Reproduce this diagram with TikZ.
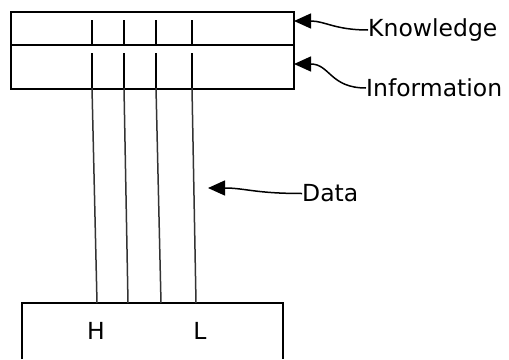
\documentclass[tikz,border=0pt]{standalone}
\usepackage{fontspec}
\setmainfont{DejaVu Sans}
\usetikzlibrary{arrows.meta}

\tikzset{
  frame/.style={draw=black, line width=1.7pt},
  tick/.style={draw=black, line width=1.6pt},
  wire/.style={draw=black!80, line width=1.5pt},
  label/.style={inner sep=0pt, font=\fontsize{23.5}{24}\selectfont},
  pointer/.style={draw=black, line width=1.5pt,
    -{Triangle[length=17pt,width=15pt]}},
}

\begin{document}
\begin{tikzpicture}[x=1pt,y=-1pt]
  \useasboundingbox (0,0) rectangle (509,359);

  % two stacked layers at the top
  \node[frame, minimum width=283pt, minimum height=33pt, inner sep=0pt,
        anchor=north west] (know) at (10,11) {};
  \node[frame, minimum width=283pt, minimum height=44pt, inner sep=0pt,
        anchor=north west] (info) at (10,44) {};

  % source block at the bottom (runs past the lower edge)
  \coordinate (srcL) at (22,359);
  \coordinate (srcTL) at (22,303);
  \coordinate (srcTR) at (283,303);
  \coordinate (srcR) at (283,359);
  \draw[frame] (srcL) -- (srcTL) -- (srcTR) -- (srcR);

  \node[label, anchor=base] (h) at (96,339) {H};
  \node[label, anchor=base] (l) at (200,339) {L};

  % signal lines: short marks in the knowledge layer
  \foreach \i/\x in {1/92,2/124,3/156,4/192} {
    \coordinate (kt\i) at (\x,20);
    \coordinate (kb\i) at (\x,44);
    \draw[tick] (kt\i) -- (kb\i);
  }
  % lines through the information layer down to the source
  \foreach \i/\x/\xb in {1/92/97,2/124/128,3/156/161,4/192/196} {
    \coordinate (it\i) at (\x,53);
    \coordinate (ib\i) at (\x,88);
    \coordinate (sb\i) at (\xb,303);
    \draw[tick] (it\i) -- (ib\i);
    \draw[wire] (ib\i) -- (sb\i);
  }

  % captions and their pointers
  \node[label, anchor=west] (ktxt) at (368,30) {Knowledge};
  \node[label, anchor=west] (itxt) at (366,88) {Information};
  \node[label, anchor=west] (dtxt) at (302,193.5) {Data};

  \coordinate (ktip) at (294,21);
  \coordinate (itip) at (294,64);
  \coordinate (dtip) at (208,188);

  \draw[pointer] (ktxt.west) .. controls (335,30) and (325,21) .. (ktip);
  \draw[pointer] (itxt.west) .. controls (330,88) and (330,64) .. (itip);
  \draw[pointer] (dtxt.west) .. controls (255,193.5) and (245,188) .. (dtip);
\end{tikzpicture}
\end{document}
